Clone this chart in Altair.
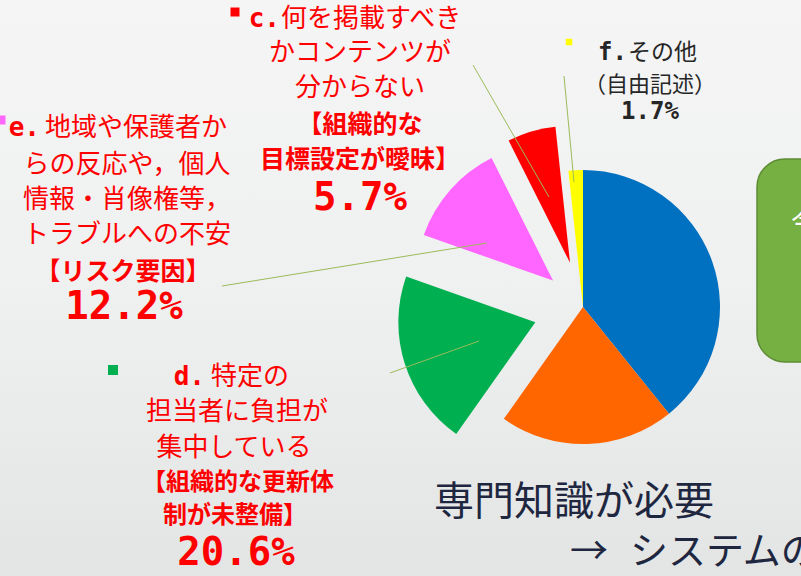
import math
import altair as alt
import pandas as pd

# ---------------- data ----------------
slice_keys = ["a", "b", "d", "e", "c", "f"]          # clockwise from 12 o'clock
slice_values = [39.2, 20.6, 20.6, 12.2, 5.7, 1.7]      # percent
slice_colors = ["#0070c0", "#ff6600", "#00b050", "#ff66ff", "#ff0000", "#ffff00"]
slice_explode = [0, 0, 50, 40, 46, 0]                  # pull-out distance (px)

c_lines = ["何を掲載すべき", "かコンテンツが", "分からない"]
c_bold = ["【組織的な", "目標設定が曖昧】"]
e_lines = ["地域や保護者か", "らの反応や，個人", "情報・肖像権等，", "トラブルへの不安"]
e_bold = ["【リスク要因】"]
d_lines = ["特定の", "担当者に負担が", "集中している"]
d_bold = ["【組織的な更新体", "制が未整備】"]
f_lines = ["その他", "（自由記述）"]
prefixes = ["c.", "e.", "d.", "f."]
pct_text = {"c": "5.7%", "e": "12.2%", "d": "20.6%", "f": "1.7%"}
bottom_lines = ["専門知識が必要", "→", "システムの"]

W, H = 801, 576
CX, CY, R = 583, 307, 137
RED = "#ff0000"
JP = "Noto Sans CJK JP"
MONO = "DejaVu Sans Mono"

# ---------------- background ----------------
bg = alt.Chart(pd.DataFrame({"k": [0]})).mark_rect(
    fill=alt.LinearGradient(
        gradient="linear",
        stops=[alt.GradientStop(color="#f5f5f5", offset=0),
               alt.GradientStop(color="#eff0f0", offset=0.5),
               alt.GradientStop(color="#e3e5e5", offset=1)],
        x1=0, x2=0, y1=0, y2=1),
).encode(x=alt.value(0), x2=alt.value(W), y=alt.value(0), y2=alt.value(H))

box = alt.Chart(pd.DataFrame({"k": [0]})).mark_rect(
    fill="#76b043", stroke="#5e8c35", strokeWidth=1.5, cornerRadius=28
).encode(x=alt.value(757), x2=alt.value(870), y=alt.value(159), y2=alt.value(362))

box_text = alt.Chart(pd.DataFrame({"t": ["今後"]})).mark_text(
    font=JP, fontSize=30, color="white", align="left", baseline="middle"
).encode(x=alt.value(791), y=alt.value(223), text="t:N")

# ---------------- pie ----------------
pie_df = pd.DataFrame({"key": slice_keys, "value": slice_values,
                       "order": list(range(len(slice_keys))), "explode": slice_explode})
pie = (
    alt.Chart(pie_df)
    .transform_window(cum="sum(value)", sort=[alt.SortField("order")], frame=[None, 0])
    .transform_calculate(start="datum.cum - datum.value")
    .transform_calculate(mid="(datum.cum - datum.value / 2) / 100 * 2 * PI")
    .transform_calculate(px=f"{CX} + datum.explode * sin(datum.mid)")
    .transform_calculate(py=f"{CY} - datum.explode * cos(datum.mid)")
    .mark_arc(outerRadius=R)
    .encode(
        theta=alt.Theta("start:Q", scale=alt.Scale(domain=[0, 100], range=[0, 2 * math.pi]), stack=None),
        theta2="cum:Q",
        x=alt.X("px:Q", scale=None, axis=None),
        y=alt.Y("py:Q", scale=None, axis=None),
        color=alt.Color("key:N", scale=alt.Scale(domain=slice_keys, range=slice_colors), legend=None),
    )
)

# ---------------- leader lines ----------------
lines_df = pd.DataFrame({
    "x": [473, 564, 222, 390], "y": [65, 76, 286, 373],
    "x2": [549, 574, 487, 479], "y2": [197, 182, 243, 341],
})
leaders = alt.Chart(lines_df).mark_rule(color="#9bbb59", strokeWidth=1).encode(
    x=alt.X("x:Q", scale=None), y=alt.Y("y:Q", scale=None),
    x2="x2:Q", y2="y2:Q")

# ---------------- legend markers ----------------
mk_df = pd.DataFrame({"key": ["c", "e", "d", "f"], "x": [235, 1, 113, 569],
                      "y": [12, 120, 370, 42], "s": [81, 81, 100, 42]})
markers = alt.Chart(mk_df).mark_square(opacity=1).encode(
    x=alt.X("x:Q", scale=None), y=alt.Y("y:Q", scale=None),
    size=alt.Size("s:Q", scale=None),
    color=alt.Color("key:N", scale=alt.Scale(domain=slice_keys, range=slice_colors), legend=None))


def text_layer(rows, **kw):
    df = pd.DataFrame(rows, columns=["t", "x", "y"])
    base = dict(baseline="middle", align="center")
    base.update(kw)
    return alt.Chart(df).mark_text(**base).encode(
        x=alt.X("x:Q", scale=None), y=alt.Y("y:Q", scale=None), text="t:N")


# normal red Japanese lines
red_normal = text_layer(
    [(c_lines[1], 360, 53), (c_lines[2], 360, 88),
     (e_lines[1], 127, 165), (e_lines[2], 127, 200), (e_lines[3], 127, 235),
     (d_lines[1], 237, 412), (d_lines[2], 234, 448)],
    font=JP, fontSize=26, color=RED)
red_normal_left = text_layer(
    [(c_lines[0], 281, 19), (e_lines[0], 45, 128), (d_lines[0], 211, 377)],
    font=JP, fontSize=26, color=RED, align="left")
red_bold = text_layer(
    [(c_bold[0], 360, 125), (c_bold[1], 360, 160),
     (e_bold[0], 123, 272)],
    font=JP, fontSize=25, fontWeight="bold", color=RED)
red_bold_d = text_layer(
    [(d_bold[0], 238, 483), (d_bold[1], 235, 516)],
    font=JP, fontSize=24, fontWeight="bold", color=RED)
red_prefix = text_layer(
    [(prefixes[0], 280, 19), (prefixes[1], 40, 128), (prefixes[2], 205, 377)],
    font=MONO, fontSize=26, fontWeight="bold", color=RED, align="right")
red_pct = text_layer(
    [(pct_text["c"], 360, 198), (pct_text["e"], 124, 307), (pct_text["d"], 236, 553)],
    font=MONO, fontSize=39, fontWeight="bold", color=RED)

# f block (dark text)
f_prefix = text_layer([(prefixes[3], 627, 53)], font=MONO, fontSize=24,
                      fontWeight="bold", color="#262626", align="right")
f_first = text_layer([(f_lines[0], 628, 53)], font=JP, fontSize=23,
                     color="#262626", align="left")
f_second = text_layer([(f_lines[1], 650, 85)], font=JP, fontSize=22, color="#262626")
f_pct = text_layer([(pct_text["f"], 650, 112)], font=MONO, fontSize=24,
                   fontWeight="bold", color="#262626")

bottom1 = text_layer([(bottom_lines[0], 434, 503)],
                     font=JP, fontSize=40, color="#1f2740", align="left")
bottom2 = text_layer([(bottom_lines[1], 570, 553), (bottom_lines[2], 630, 553)],
                     font=JP, fontSize=38, color="#1f2740", align="left")

chart = alt.layer(
    bg, box, box_text, pie, leaders, markers,
    red_normal, red_normal_left, red_bold, red_bold_d, red_prefix, red_pct,
    f_prefix, f_first, f_second, f_pct, bottom1, bottom2,
).properties(
    width=W, height=H, padding=0, autosize=alt.AutoSizeParams(type="none"),
    background="#efefef",
).configure_view(stroke=None)

chart.save("out.html", embed_options={"renderer": "svg", "actions": False})
